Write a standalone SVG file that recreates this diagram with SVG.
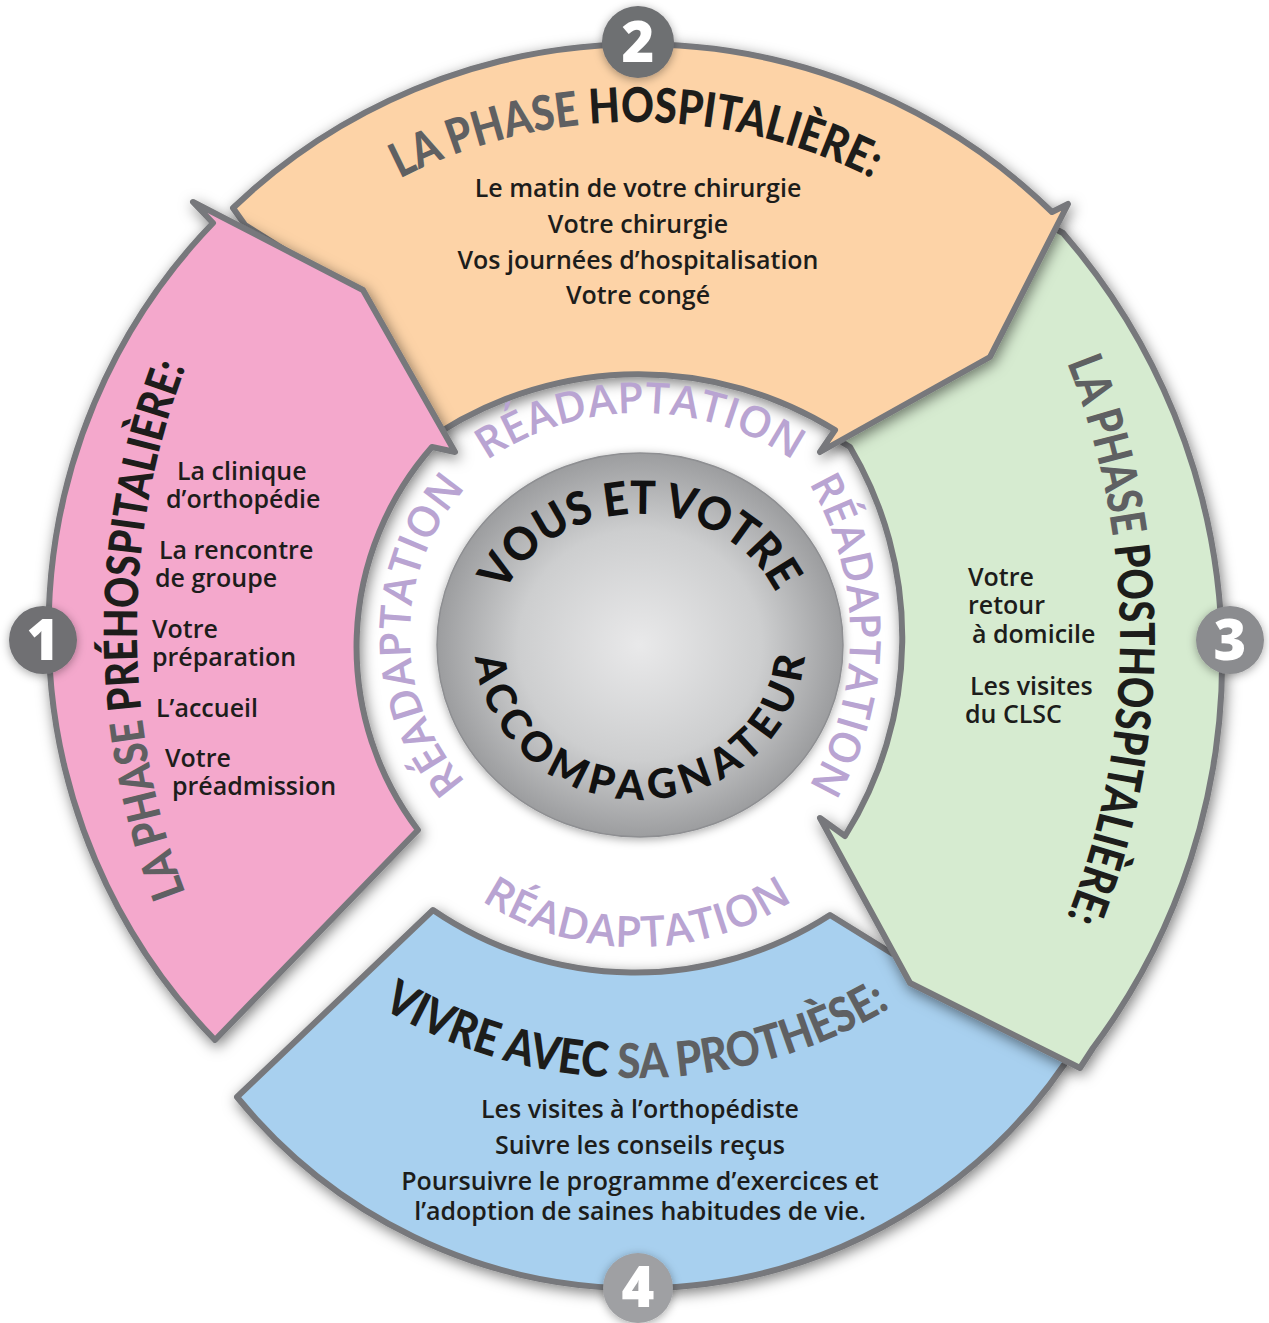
<svg xmlns="http://www.w3.org/2000/svg" width="1269" height="1323" viewBox="0 0 1269 1323">
<defs>
<filter id="sh" x="-20%" y="-20%" width="140%" height="140%"><feDropShadow dx="2" dy="4" stdDeviation="7" flood-color="#000" flood-opacity="0.5"/></filter>
<filter id="sh2" x="-30%" y="-30%" width="160%" height="160%"><feDropShadow dx="0" dy="2" stdDeviation="5" flood-color="#000" flood-opacity="0.35"/></filter>
<radialGradient id="sph" cx="0.5" cy="0.5" r="0.5"><stop offset="0" stop-color="#e9e9ea"/><stop offset="0.6" stop-color="#cdcecf"/><stop offset="1" stop-color="#9c9d9f"/></radialGradient>
<path id="pTop" d="M 337.2 216.2 A 521 521 0 0 1 934.8 216.2"/>
<path id="pPink" d="M 205.9 940.6 A 735 735 0 0 1 205.9 319.4"/>
<path id="pGreen" d="M 1049.7 323 A 750 750 0 0 1 1049.7 957"/>
<path id="pBlue" d="M 351.5 988.3 A 496 496 0 0 0 920.5 988.3"/>
<path id="rTop" d="M 465.8 476.4 A 271 271 0 0 1 814.2 476.4"/>
<path id="rBot" d="M 454.4 880.6 A 284 284 0 0 0 819.6 880.6"/>
<path id="rLeft" d="M 461.7 777.1 A 221 221 0 0 1 461.7 492.9"/>
<path id="rRight" d="M 795.7 462.9 A 300 300 0 0 1 795.7 807.1"/>
<path id="cTop" d="M 500.9 600.2 A 148 131 0 0 1 779.1 600.2"/>
<path id="cBot" d="M 475.6 631.5 A 165 155 0 1 0 804.4 631.5"/>
</defs>
<style>
.seg{stroke:#77787b;stroke-width:6;stroke-linejoin:round;filter:url(#sh)}
.body{font-family:"Open Sans","Noto Sans",sans-serif;font-size:25px;font-weight:600;fill:#1d1d1b}
.mid{text-anchor:middle}
.title{font-family:Lato,"Open Sans",sans-serif;font-weight:900;font-size:48px}
.title2{font-family:Lato,"Open Sans",sans-serif;font-weight:900;font-size:46px}
.grey{fill:#5f6062}
.blk{fill:#1d1d1b}
.rea{font-family:"Open Sans",sans-serif;font-weight:600;font-size:43px;fill:#b9a4d2}
.ctr{font-family:Lato,sans-serif;font-weight:900;font-size:46px;fill:#111}
.ctr2{font-family:Lato,sans-serif;font-weight:900;font-size:41px;fill:#111}
.num{font-family:"Open Sans",sans-serif;font-weight:800;font-size:56px;fill:#fff;text-anchor:middle}
</style>
<rect width="1269" height="1323" fill="#fff"/>

<g id="phase4">
<path class="seg" fill="#a8d0ef" d="M 433 910 A 358 358 0 0 0 830 915 L 893 954 L 930 975 L 1060 1050 L 1066 1062 A 517 517 0 0 1 237 1097 Z"/>
</g>
<g id="phase3">
<path class="seg" fill="#d6ebd0" d="M 1063 233 A 650 650 0 0 1 1093 1048 L 1080 1068 L 910 983 L 820 818 L 845 836 A 373 373 0 0 0 850 447 L 835 438 L 983 352 L 1050 226 Z"/>
</g>
<g id="phase2">
<path class="seg" fill="#fdd3a7" d="M 233 208 A 589 589 0 0 1 1052 212 L 1068 204 L 990 357 L 820 452 L 835 430 A 372 372 0 0 0 440 432 L 365 300 L 245 225 Z"/>
</g>
<g id="phase1">
<path class="seg" fill="#f4a8cc" d="M 193 202 L 363 290 L 455 452 L 432 447 A 303 303 0 0 0 418 830 L 215 1040 A 587 587 0 0 1 213 223 Z"/>
</g>

<g id="center">
<ellipse cx="640" cy="645" rx="203" ry="192" fill="url(#sph)" stroke="#8e8f92" stroke-width="1.5" filter="url(#sh2)"/>
<text class="ctr"><textPath href="#cTop" startOffset="50%" text-anchor="middle" textLength="330" lengthAdjust="spacingAndGlyphs">VOUS ET VOTRE</textPath></text>
<text class="ctr2"><textPath href="#cBot" startOffset="50%" text-anchor="middle" textLength="478">ACCOMPAGNATEUR</textPath></text>
</g>

<g id="readaptation">
<text class="rea"><textPath href="#rTop" startOffset="50%" text-anchor="middle" textLength="326" lengthAdjust="spacingAndGlyphs">RÉADAPTATION</textPath></text>
<text class="rea"><textPath href="#rBot" startOffset="50%" text-anchor="middle" textLength="330" lengthAdjust="spacingAndGlyphs">RÉADAPTATION</textPath></text>
<text class="rea"><textPath href="#rLeft" startOffset="50%" text-anchor="middle" textLength="322" lengthAdjust="spacingAndGlyphs">RÉADAPTATION</textPath></text>
<text class="rea"><textPath href="#rRight" startOffset="50%" text-anchor="middle" textLength="318" lengthAdjust="spacingAndGlyphs">RÉADAPTATION</textPath></text>
</g>

<g id="phase2-text">
<text class="title"><textPath href="#pTop" startOffset="50%" text-anchor="middle" textLength="490" lengthAdjust="spacingAndGlyphs"><tspan class="grey">LA PHASE </tspan><tspan class="blk">HOSPITALIÈRE:</tspan></textPath></text>
<text class="body mid" x="638" y="197">Le matin de votre chirurgie</text>
<text class="body mid" x="638" y="233">Votre chirurgie</text>
<text class="body mid" x="638" y="269">Vos journées d’hospitalisation</text>
<text class="body mid" x="638" y="304">Votre congé</text>
</g>

<g id="phase1-text">
<text class="title2"><textPath href="#pPink" startOffset="50%" text-anchor="middle" textLength="537" lengthAdjust="spacingAndGlyphs"><tspan class="grey">LA PHASE </tspan><tspan class="blk">PRÉHOSPITALIÈRE:</tspan></textPath></text>
<text class="body" x="177" y="480">La clinique</text>
<text class="body" x="166" y="508">d’orthopédie</text>
<text class="body" x="159" y="559">La rencontre</text>
<text class="body" x="155" y="587">de groupe</text>
<text class="body" x="152" y="638">Votre</text>
<text class="body" x="152" y="666">préparation</text>
<text class="body" x="156" y="717">L’accueil</text>
<text class="body" x="165" y="767">Votre</text>
<text class="body" x="172" y="795">préadmission</text>
</g>

<g id="phase3-text">
<text class="title"><textPath href="#pGreen" startOffset="50%" text-anchor="middle" textLength="568" lengthAdjust="spacingAndGlyphs"><tspan class="grey">LA PHASE </tspan><tspan class="blk">POSTHOSPITALIÈRE:</tspan></textPath></text>
<text class="body" x="968" y="586">Votre</text>
<text class="body" x="968" y="614">retour</text>
<text class="body" x="972" y="643">à domicile</text>
<text class="body" x="970" y="695">Les visites</text>
<text class="body" x="965" y="723">du CLSC</text>
</g>

<g id="phase4-text">
<text class="title"><textPath href="#pBlue" startOffset="50%" text-anchor="middle" textLength="534" lengthAdjust="spacingAndGlyphs"><tspan class="blk">VIVRE AVEC </tspan><tspan class="grey">SA PROTHÈSE:</tspan></textPath></text>
<text class="body mid" x="640" y="1118">Les visites à l’orthopédiste</text>
<text class="body mid" x="640" y="1154">Suivre les conseils reçus</text>
<text class="body mid" x="640" y="1190">Poursuivre le programme d’exercices et</text>
<text class="body mid" x="640" y="1220">l’adoption de saines habitudes de vie.</text>
</g>

<g id="numbers">
<g id="n1"><circle cx="43" cy="640" r="34" fill="#6f7073" filter="url(#sh2)"/><text class="num" x="43" y="660">1</text></g>
<g id="n2"><circle cx="638" cy="42" r="36" fill="#6e6f72" filter="url(#sh2)"/><text class="num" x="638" y="62">2</text></g>
<g id="n3"><circle cx="1230" cy="640" r="34" fill="#8b8c8f" filter="url(#sh2)"/><text class="num" x="1230" y="660">3</text></g>
<g id="n4"><circle cx="638" cy="1288" r="35" fill="#9fa0a3" filter="url(#sh2)"/><text class="num" x="638" y="1307">4</text></g>
</g>
</svg>
